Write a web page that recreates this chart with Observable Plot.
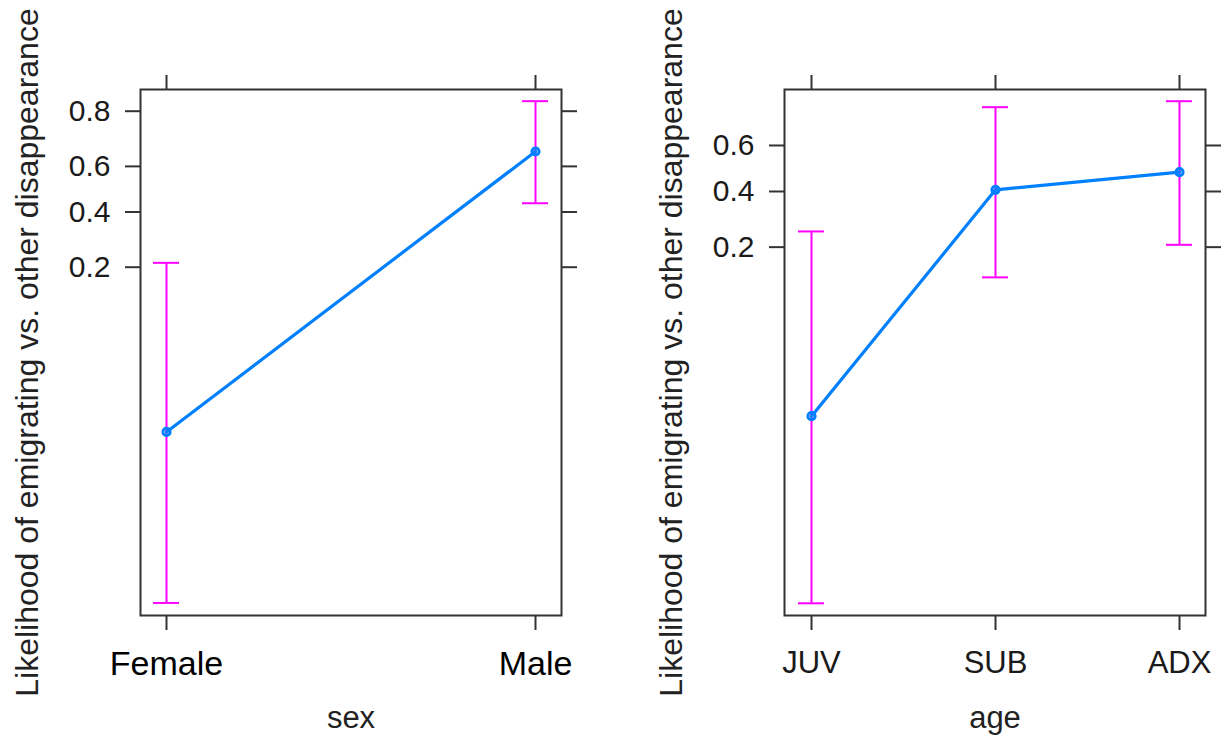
<!DOCTYPE html>
<html><head><meta charset="utf-8">
<script src="https://cdn.jsdelivr.net/npm/d3@7"></script>
<script src="https://cdn.jsdelivr.net/npm/@observablehq/plot@0.6"></script>
<style>
html,body{margin:0;padding:0;background:#fff;}
#wrap{display:flex;width:1224px;height:738px;overflow:hidden;}
#wrap svg{display:block;flex:none;}
</style></head><body><div id="wrap"></div>
<script>
// ---- data ----
const sexLevels = ["Female", "Male"];
const sexFit    = [0.0132, 0.6615];
const sexLower  = [0.00064, 0.438];
const sexUpper  = [0.2127, 0.827];

const ageLevels = ["JUV", "SUB", "ADX"];
const ageFit    = [0.01255, 0.407, 0.4837];
const ageLower  = [0.00047, 0.128, 0.2067];
const ageUpper  = [0.248, 0.7465, 0.766];

const sexTicks = [0.2, 0.4, 0.6, 0.8];
const ageTicks = [0.2, 0.4, 0.6];
const yTitle = "Likelihood of emigrating vs. other disappearance";

// ---- helpers ----
const logit = p => Math.log(p / (1 - p));
const expit = v => 1 / (1 + Math.exp(-v));
const fmt = d3.format(".1f");

function panel(o) {
  const rows = o.levels.map((l, i) => ({
    level: l, fit: logit(o.fit[i]), lo: logit(o.lower[i]), hi: logit(o.upper[i])
  }));
  const yt = o.ticks.map(logit);
  return Plot.plot({
    width: 612, height: 738,
    marginLeft: o.marginLeft, marginRight: o.marginRight, marginTop: 89, marginBottom: 123,
    style: {fontFamily: "'Liberation Sans', Arial, sans-serif", background: "white", color: "#1a1a1a", overflow: "visible"},
    x: {type: "point", domain: o.levels, padding: o.padding, label: null},
    y: {domain: o.yDomain.map(logit), label: null},
    marks: [
      Plot.axisY({ticks: yt, anchor: "left", tickSize: 15, tickPadding: 15, tickFormat: v => fmt(expit(v)),
                  fontSize: 30, stroke: "#333", strokeWidth: 2, fill: "#1a1a1a", label: null}),
      Plot.axisY({ticks: yt, anchor: "right", tickSize: 15, tickFormat: () => "", stroke: "#333", strokeWidth: 2, label: null}),
      Plot.axisX({anchor: "top", tickSize: 15, tickFormat: () => "", stroke: "#333", strokeWidth: 2, label: null}),
      Plot.axisX({anchor: "bottom", tickSize: 15, tickPadding: 20, fontSize: o.xFont, fill: o.xColor,
                  stroke: "#333", strokeWidth: 2, label: null}),
      Plot.frame({stroke: "#333", strokeWidth: 2}),
      Plot.ruleX(rows, {x: "level", y1: "lo", y2: "hi", stroke: "#ff00ff", strokeWidth: 2}),
      Plot.ruleY(rows, {x1: "level", x2: "level", y: "hi", stroke: "#ff00ff", strokeWidth: 2, insetLeft: -13, insetRight: -13}),
      Plot.ruleY(rows, {x1: "level", x2: "level", y: "lo", stroke: "#ff00ff", strokeWidth: 2, insetLeft: -13, insetRight: -13}),
      Plot.line(rows, {x: "level", y: "fit", stroke: "#0080ff", strokeWidth: 3.2}),
      Plot.dot(rows, {x: "level", y: "fit", r: 3.6, stroke: "#0080ff", strokeWidth: 3, fill: "none"}),
      Plot.text([o.xTitle], {text: d => d, frameAnchor: "bottom", dy: 112, lineAnchor: "bottom",
                             fontSize: 31, fill: "#222"}),
      Plot.text([yTitle], {text: d => d, frameAnchor: "left", textAnchor: "middle", rotate: -90, dx: -103,
                           lineAnchor: "bottom", fontSize: 32, fill: "#222"})
    ]
  });
}

const wrap = document.getElementById("wrap");
wrap.append(panel({
  levels: sexLevels, fit: sexFit, lower: sexLower, upper: sexUpper, ticks: sexTicks,
  xTitle: "sex", yDomain: [0.000512, 0.8547], marginLeft: 140, marginRight: 51,
  padding: 0.07, xFont: 34, xColor: "#000"
}));
wrap.append(panel({
  levels: ageLevels, fit: ageFit, lower: ageLower, upper: ageUpper, ticks: ageTicks,
  xTitle: "age", yDomain: [0.000379, 0.8009], marginLeft: 172, marginRight: 19,
  padding: 0.14, xFont: 31, xColor: "#1a1a1a"
}));
</script>
</body></html>
